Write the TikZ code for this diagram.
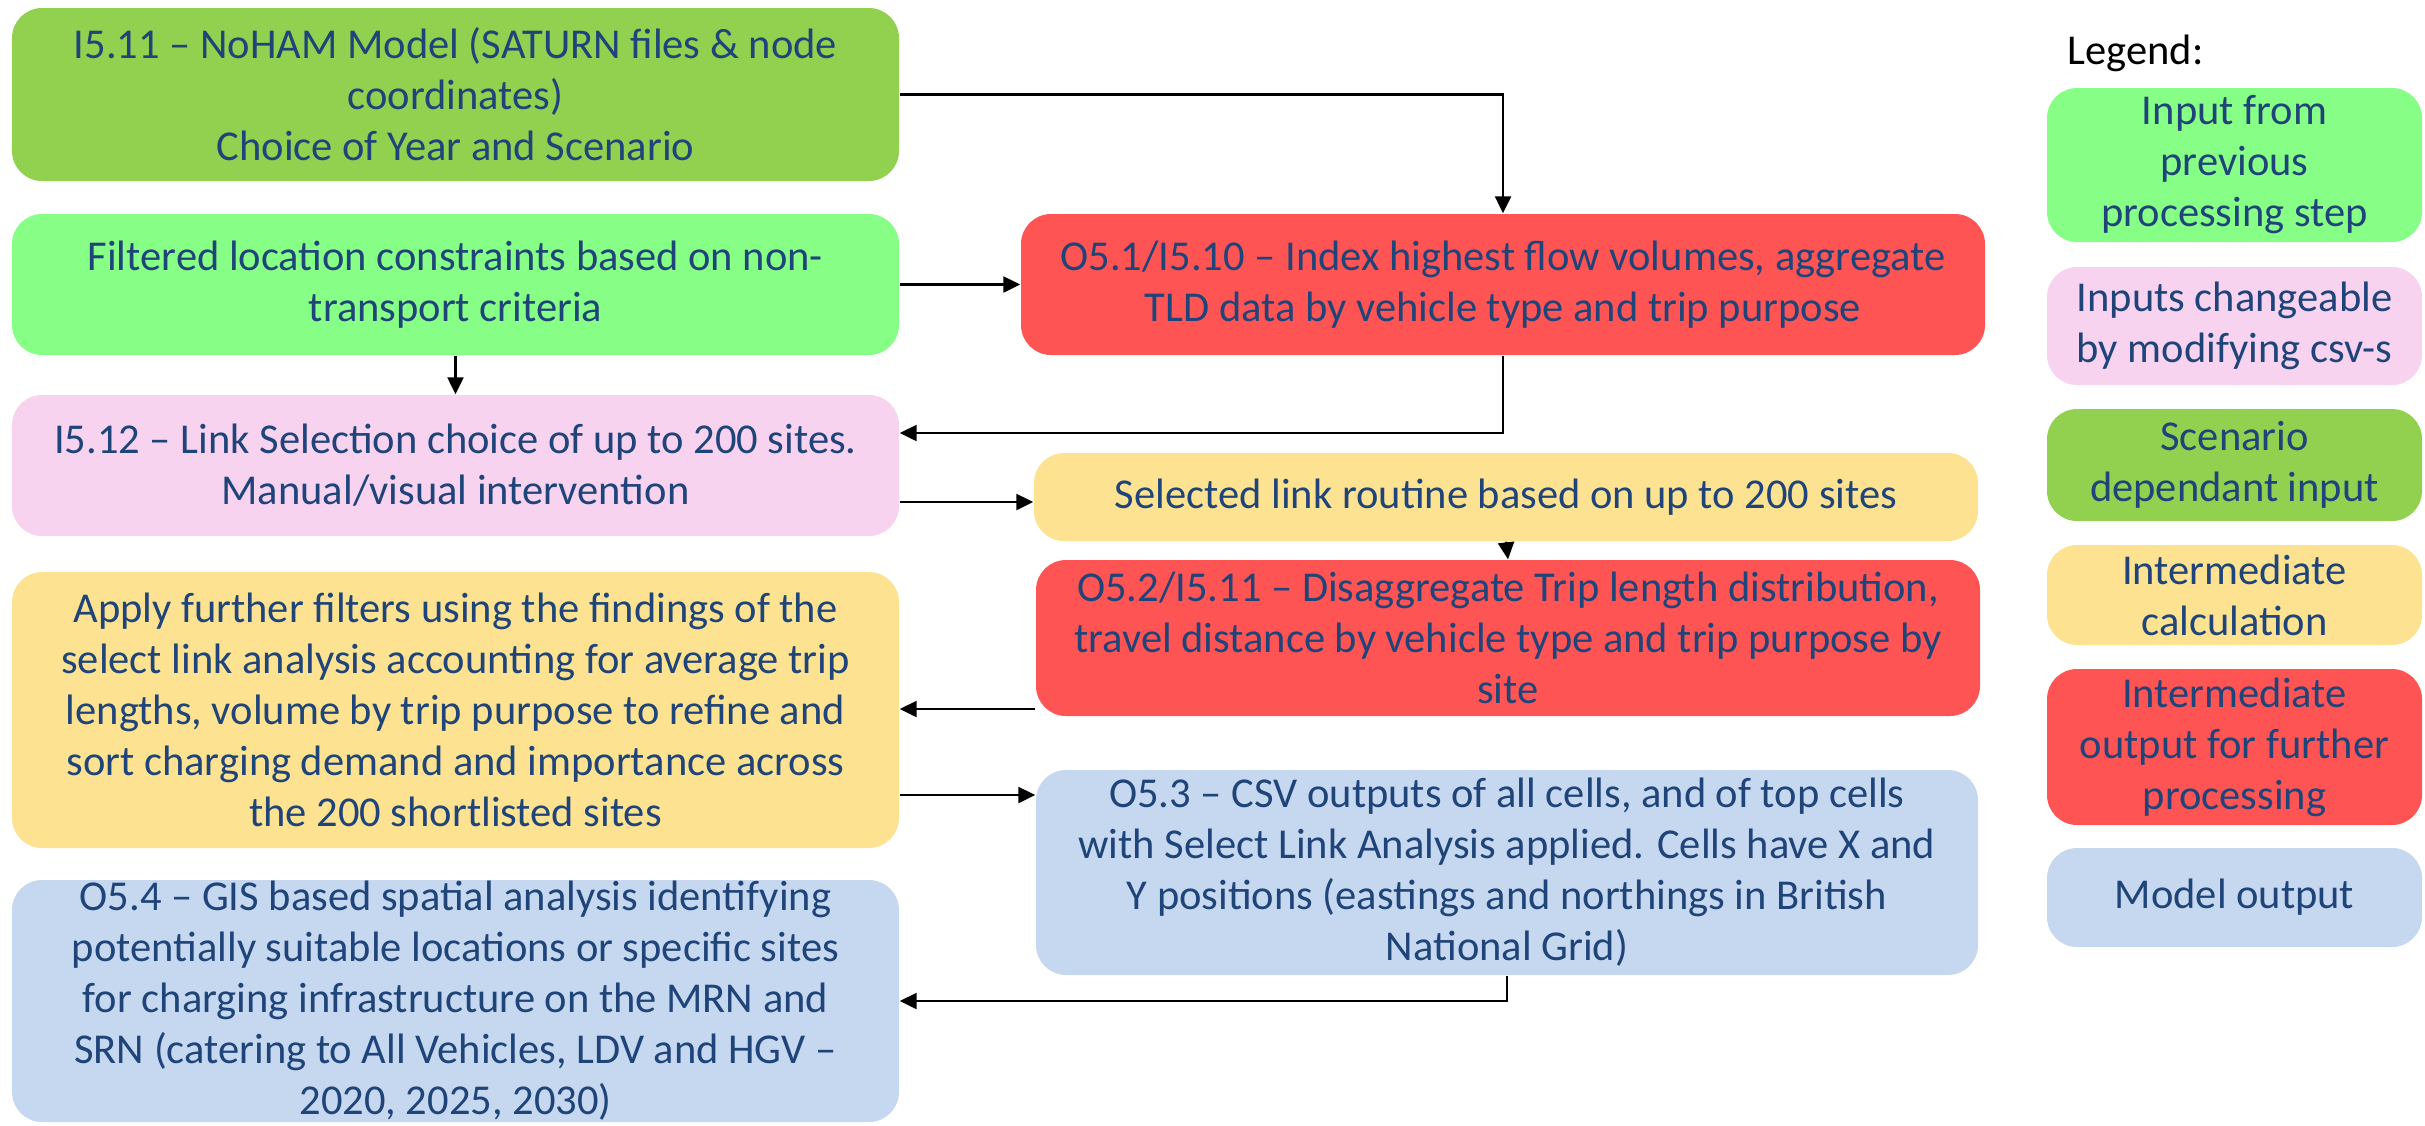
\documentclass[tikz,border=0pt]{standalone}
\usepackage{fontspec}
\setmainfont{Carlito}
\usetikzlibrary{arrows.meta,positioning}

\definecolor{dkgreen}{HTML}{92D050}
\definecolor{ltgreen}{HTML}{87FF87}
\definecolor{pinkbox}{HTML}{F8D3F0}
\definecolor{yellowbox}{HTML}{FDE391}
\definecolor{redbox}{HTML}{FF5454}
\definecolor{bluebox}{HTML}{C6D8EF}
\definecolor{txtblue}{HTML}{1F4479}

\tikzset{
  box/.style={rectangle, rounded corners=0.3cm, inner sep=0pt, align=center,
    text=txtblue, font=\fontsize{12.1pt}{14.5pt}\selectfont},
  leftbox/.style={box, minimum width=8.87cm},
  legbox/.style={box, minimum width=3.75cm},
  arr/.style={draw=black, line width=0.65pt,
    -{Triangle[length=0.17cm,width=0.16cm]}}
}

\begin{document}
\begin{tikzpicture}
\useasboundingbox (0,0) rectangle (24.25,-11.25);

% left column
\node[leftbox, fill=dkgreen, minimum height=1.73cm] (b1) at (4.555,-0.945)
  {I5.11 – NoHAM Model (SATURN files \& node\\coordinates)\\Choice of Year and Scenario};
\node[leftbox, fill=ltgreen, minimum height=1.41cm] (b2) at (4.555,-2.845)
  {Filtered location constraints based on non-\\transport criteria};
\node[leftbox, fill=pinkbox, minimum height=1.41cm] (b3) at (4.555,-4.655)
  {I5.12 – Link Selection choice of up to 200 sites.\\Manual/visual intervention};
\node[leftbox, fill=yellowbox, minimum height=2.76cm] (b4) at (4.555,-7.10)
  {Apply further filters using the findings of the\\select link analysis accounting for average trip\\lengths, volume by trip purpose to refine and\\sort charging demand and importance across\\the 200 shortlisted sites};
\node[leftbox, fill=bluebox, minimum height=2.42cm, inner ysep=-0.2cm] (b5) at (4.555,-10.01)
  {O5.4 – GIS based spatial analysis identifying\\potentially suitable locations or specific sites\\for charging infrastructure on the MRN and\\SRN (catering to All Vehicles, LDV and HGV –\\2020, 2025, 2030)};

% right column
\node[box, fill=redbox, minimum width=9.64cm, minimum height=1.41cm] (r1) at (15.03,-2.845)
  {O5.1/I5.10 – Index highest flow volumes, aggregate\\TLD data by vehicle type and trip purpose};
\node[box, fill=yellowbox, minimum width=9.44cm, minimum height=0.88cm] (r2) at (15.06,-4.97)
  {Selected link routine based on up to 200 sites};
\node[box, fill=redbox, minimum width=9.44cm, minimum height=1.56cm] (r3) at (15.08,-6.38)
  {O5.2/I5.11 – Disaggregate Trip length distribution,\\travel distance by vehicle type and trip purpose by\\site};
\node[box, fill=bluebox, minimum width=9.42cm, minimum height=2.05cm] (r4) at (15.07,-8.725)
  {O5.3 – CSV outputs of all cells, and of top cells\\with Select Link Analysis applied. Cells have X and\\Y positions (eastings and northings in British\\National Grid)};

% legend
\node[anchor=base west, font=\fontsize{12.1pt}{14.5pt}\selectfont, text=black] (legtitle) at (20.55,-0.64) {Legend:};
\node[legbox, fill=ltgreen, minimum height=1.54cm] (l1) at (22.345,-1.65)
  {Input from\\previous\\processing step};
\node[legbox, fill=pinkbox, minimum height=1.18cm] (l2) at (22.345,-3.26)
  {Inputs changeable\\by modifying csv-s};
\node[legbox, fill=dkgreen, minimum height=1.12cm] (l3) at (22.345,-4.65)
  {Scenario\\dependant input};
\node[legbox, fill=yellowbox, minimum height=1.00cm] (l4) at (22.345,-5.95)
  {Intermediate\\calculation};
\node[legbox, fill=redbox, minimum height=1.56cm] (l5) at (22.345,-7.47)
  {Intermediate\\output for further\\processing};
\node[legbox, fill=bluebox, minimum height=0.99cm] (l6) at (22.345,-8.975)
  {Model output};

% connectors
\draw[arr] (b1.east) -| (r1.north);
\draw[arr] (b2.east) -- (r1.west);
\draw[arr] (b2.south) -- (b3.north);
\draw[arr] (r1.south) |- ([yshift=0.325cm]b3.east);
\coordinate (p5) at ([yshift=-0.365cm]b3.east);
\draw[arr] (p5) -- (p5 -| r2.west);
\draw[arr] (r2.south) -- (r3.north);
\coordinate (p7) at ([yshift=-0.71cm]r3.west);
\draw[arr] (p7) -- (p7 -| b4.east);
\coordinate (p8) at ([yshift=-0.85cm]b4.east);
\draw[arr] (p8) -- (p8 -| r4.west);
\draw[arr] (r4.south) |- (b5.east);
\end{tikzpicture}
\end{document}
